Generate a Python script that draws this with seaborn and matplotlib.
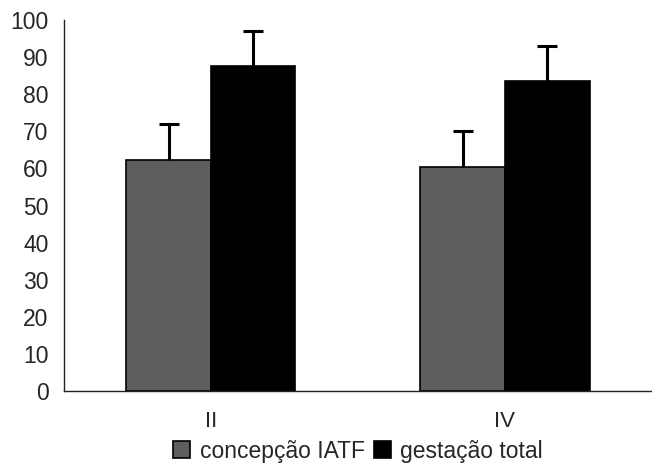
"""
Bar chart: concepção IATF vs gestação total per group
"""

import matplotlib
matplotlib.use("Agg")
import matplotlib.pyplot as plt
import numpy as np
import pandas as pd
import seaborn as sns

sns.set_style("white")
plt.rcParams["font.family"] = ["Liberation Sans", "DejaVu Sans"]

groups = ["II", "IV"]
series = ["concepção IATF", "gestação total"]
concepcao = [62.3, 60.3]
gestacao = [87.5, 83.5]
concepcao_err = [9.7, 9.7]
gestacao_err = [9.5, 9.5]
colors = ["#5e5e5e", "#000000"]

df = pd.DataFrame({
    "grupo": groups * 2,
    "serie": [series[0]] * 2 + [series[1]] * 2,
    "valor": concepcao + gestacao,
})

fig = plt.figure(figsize=(6.52, 4.63), dpi=100)
ax = fig.add_axes([0.098, 0.155, 0.902, 0.802])

sns.barplot(data=df, x="grupo", y="valor", hue="serie", order=groups,
            hue_order=series, palette=colors, width=0.575, errorbar=None,
            edgecolor="black", linewidth=1.2, ax=ax)

# upper-only error bars
for cont, err in zip(ax.containers, [concepcao_err, gestacao_err]):
    xs = [b.get_x() + b.get_width() / 2 for b in cont]
    ys = [b.get_height() for b in cont]
    eb = ax.errorbar(xs, ys, yerr=[np.zeros(len(err)), err], fmt="none",
                     ecolor="black", elinewidth=2.2, capsize=7, capthick=2.2,
                     zorder=1)
    eb[1][0].set_visible(False)

ax.set_xlim(-0.5, 1.5)
ax.set_ylim(0, 100)
ax.set_yticks(range(0, 101, 10))
ax.set_xlabel("")
ax.set_ylabel("")

ax.set_xticks([-0.5, 0.5], minor=True)
ax.tick_params(axis="x", which="major", length=0, pad=14, labelsize=16)
ax.tick_params(axis="x", which="minor", length=6, width=1, direction="out")
ax.tick_params(axis="y", length=7, width=1, direction="out", labelsize=16.5, pad=4)

for s in ["top", "right"]:
    ax.spines[s].set_visible(False)
for s in ["left", "bottom"]:
    ax.spines[s].set_color("#222222")
    ax.spines[s].set_linewidth(1)

ax.legend(loc="upper center", bbox_to_anchor=(0.5, -0.118), ncol=2,
          frameon=False, fontsize=16.5, handlelength=0.75, handleheight=0.75,
          handletextpad=0.4, columnspacing=0.4, borderaxespad=0, borderpad=0.2)

fig.savefig("out.png", dpi=100)
